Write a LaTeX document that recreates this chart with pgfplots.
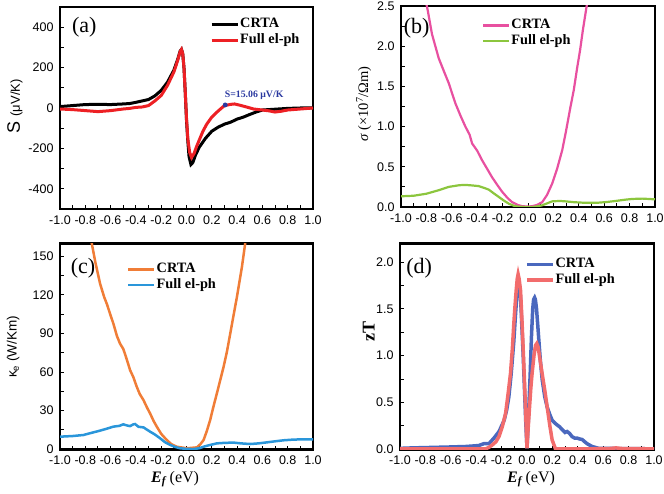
\documentclass[border=0pt]{standalone}
\usepackage{pgfplots}
\pgfplotsset{compat=1.18}
\usepackage{fontspec}
\setmainfont{Liberation Serif}
\setsansfont{Liberation Sans}
\definecolor{cred}{RGB}{237,32,36}
\definecolor{cpink}{RGB}{232,80,160}
\definecolor{cgreen}{RGB}{140,198,62}
\definecolor{corange}{RGB}{240,125,55}
\definecolor{cblue}{RGB}{42,150,218}
\definecolor{dblue}{RGB}{74,104,190}
\definecolor{dred}{RGB}{242,108,108}
\definecolor{annblue}{RGB}{43,57,160}
\pgfplotsset{
 panel/.style={
  scale only axis, xmin=-1, xmax=1,
  axis line style={line width=2.5pt},
  tick align=inside, xtick pos=bottom, ytick pos=left,
  major tick length=3.5pt, minor tick length=3.5pt,
  tick style={black, line width=1pt},
  xtick={-1,-0.8,-0.6,-0.4,-0.2,0,0.2,0.4,0.6,0.8,1},
  xticklabels={-1.0,-0.8,-0.6,-0.4,-0.2,0.0,0.2,0.4,0.6,0.8,1.0},
  minor x tick num=1, minor y tick num=1,
  ticklabel style={font=\sffamily\fontsize{12.5}{12.5}\selectfont},
  xticklabel style={yshift=-3.3pt},
  yticklabel style={xshift=-3pt},
  legend style={draw=none, fill=none, inner sep=0pt, anchor=north west,
    font=\bfseries\fontsize{14.3}{14.3}\selectfont, cells={anchor=west},
    nodes={inner sep=1pt, text height=9.5pt, text depth=3pt}, row sep=1pt},
  legend image code/.code={\draw[##1] (0pt,0pt) -- (26pt,0pt);},
 },
 xlab/.style={xlabel={\fontsize{16}{16}\selectfont\textbf{\textit{E}}\textsubscript{\textbf{\textit{f}}}\,(eV)},
   xlabel style={at={(axis description cs:#1,-0.144)}, anchor=center}},
}
\begin{document}
\begin{tikzpicture}
\path[use as bounding box] (0,0) rectangle (664pt,494pt);
% (a)
\begin{axis}[panel, at={(60pt,285pt)}, anchor=south west, width=253pt, height=202pt,
  ymin=-500, ymax=500, ytick={-400,-200,0,200,400}, yticklabels={-400,-200,0,200,400},
  ylabel={\sffamily{\fontsize{18}{18}\selectfont S}\ \ {\fontsize{13}{13}\selectfont(μV/K)}},
  ylabel style={at={(axis description cs:-0.178,0.507)}, anchor=center},
  legend style={at={(rel axis cs:0.593,0.950)}}]
\addplot[black, line width=3pt] coordinates {(-1.0,7) (-0.9,12) (-0.8,17) (-0.7,18) (-0.6,17) (-0.5,20) (-0.45,22) (-0.4,28) (-0.35,35) (-0.3,42) (-0.25,60) (-0.2,87) (-0.15,128) (-0.1,187) (-0.07,240) (-0.05,282) (-0.04,290) (-0.03,270) (-0.02,200) (-0.01,80) (0.0,-60) (0.01,-160) (0.02,-240) (0.035,-280) (0.05,-270) (0.07,-235) (0.1,-195) (0.15,-150) (0.2,-115) (0.25,-95) (0.3,-80) (0.35,-70) (0.4,-55) (0.45,-45) (0.5,-32) (0.55,-20) (0.6,-10) (0.7,-6) (0.8,-2) (0.9,0) (1.0,0)};
\addlegendentry{CRTA}
\addplot[cred, line width=3pt] coordinates {(-1.0,-5) (-0.9,-8) (-0.8,-13) (-0.7,-18) (-0.6,-13) (-0.5,-5) (-0.45,-2) (-0.4,3) (-0.35,5) (-0.3,12) (-0.25,35) (-0.2,62) (-0.15,112) (-0.1,178) (-0.07,235) (-0.05,280) (-0.04,290) (-0.03,270) (-0.02,200) (-0.01,80) (0.0,-50) (0.01,-150) (0.025,-220) (0.04,-245) (0.06,-225) (0.08,-190) (0.1,-160) (0.13,-115) (0.16,-80) (0.2,-45) (0.25,-15) (0.3,12) (0.35,18) (0.38,20) (0.42,14) (0.48,4) (0.53,-5) (0.6,-10) (0.65,-14) (0.7,-20) (0.75,-16) (0.8,-10) (0.9,-5) (1.0,0)};
\addlegendentry{Full el-ph}
\addplot[annblue, only marks, mark=*, mark size=2.2pt, forget plot] coordinates {(0.306,15.06)};
\node[anchor=west, inner sep=0pt, text=annblue, font=\bfseries\fontsize{9.8}{9.8}\selectfont] at (axis cs:0.302,64) {S=15.06 μV/K};
\node[anchor=west, inner sep=0pt, font=\fontsize{22}{22}\selectfont] at (rel axis cs:0.047,0.90) {(a)};
\end{axis}
% (b)
\begin{axis}[panel, at={(401pt,287pt)}, anchor=south west, width=254pt, height=201pt,
  ymin=0, ymax=2.5, ytick={0,0.5,1,1.5,2,2.5}, yticklabels={0.0,0.5,1.0,1.5,2.0,2.5},
  ylabel={\fontsize{14.5}{14.5}\selectfont\textit{σ} (×10\textsuperscript{7}/Ωm)},
  ylabel style={at={(axis description cs:-0.147,0.512)}, anchor=center},
  legend style={at={(rel axis cs:0.319,0.940)}}]
\addplot[cpink, line width=2.2pt] coordinates {(-0.81,2.6) (-0.79,2.45) (-0.756,2.15) (-0.703,1.85) (-0.66,1.68) (-0.624,1.54) (-0.572,1.29) (-0.53,1.13) (-0.493,1.0) (-0.46,0.9) (-0.44,0.79) (-0.4,0.7) (-0.361,0.58) (-0.32,0.47) (-0.283,0.37) (-0.24,0.27) (-0.204,0.19) (-0.16,0.11) (-0.125,0.06) (-0.08,0.025) (-0.046,0.01) (0.0,0.005) (0.033,0.01) (0.07,0.025) (0.112,0.06) (0.15,0.15) (0.19,0.29) (0.23,0.48) (0.27,0.71) (0.3,0.95) (0.335,1.25) (0.36,1.45) (0.388,1.74) (0.41,1.95) (0.432,2.2) (0.467,2.55)};
\addlegendentry{CRTA}
\addplot[cgreen, line width=2.2pt] coordinates {(-1,0.133) (-0.9,0.14) (-0.8,0.165) (-0.7,0.21) (-0.624,0.25) (-0.545,0.27) (-0.5,0.275) (-0.453,0.27) (-0.388,0.26) (-0.35,0.24) (-0.309,0.216) (-0.27,0.17) (-0.23,0.125) (-0.19,0.08) (-0.15,0.04) (-0.11,0.015) (-0.072,0.003) (0.0,0.0) (0.05,0.002) (0.11,0.02) (0.15,0.045) (0.19,0.07) (0.25,0.075) (0.296,0.07) (0.36,0.06) (0.427,0.054) (0.5,0.052) (0.558,0.054) (0.62,0.062) (0.69,0.075) (0.76,0.09) (0.82,0.1) (0.9,0.104) (0.95,0.1) (1.0,0.095)};
\addlegendentry{Full el-ph}
\node[anchor=west, inner sep=0pt, font=\fontsize{22}{22}\selectfont] at (rel axis cs:0.0106,0.89) {(b)};
\end{axis}
% (c)
\begin{axis}[panel, xlab=0.455, at={(60pt,44.7pt)}, anchor=south west, width=253pt, height=206pt,
  ymin=0, ymax=160, ytick={0,30,60,90,120,150}, yticklabels={0,30,60,90,120,150},
  ylabel={\sffamily\fontsize{13.5}{13.5}\selectfont κ\textsubscript{e} (W/Km)},
  ylabel style={at={(axis description cs:-0.185,0.497)}, anchor=center},
  legend style={at={(rel axis cs:0.265,0.909)}}]
\addplot[corange, line width=2.5pt] coordinates {(-0.76,165) (-0.749,160) (-0.72,145) (-0.683,128.6) (-0.65,118) (-0.63,113) (-0.6,104) (-0.578,97.6) (-0.55,88) (-0.525,82) (-0.5,78) (-0.486,74) (-0.46,66) (-0.446,61.5) (-0.42,56) (-0.393,48.5) (-0.37,43) (-0.34,38.2) (-0.31,32) (-0.288,27.9) (-0.26,22) (-0.235,17.6) (-0.2,12) (-0.156,7.2) (-0.12,4) (-0.077,2) (0.003,0.8) (0.082,1.5) (0.11,4) (0.135,7.2) (0.16,14) (0.187,22.7) (0.21,32) (0.24,43.4) (0.27,55) (0.293,64) (0.32,76) (0.346,90) (0.37,103) (0.398,118) (0.42,131) (0.438,141.5) (0.464,160) (0.47,165)};
\addlegendentry{CRTA}
\addplot[cblue, line width=2.5pt] coordinates {(-1,9.8) (-0.9,10.3) (-0.815,11.1) (-0.75,12.8) (-0.683,14.5) (-0.63,16) (-0.578,17.6) (-0.53,18.2) (-0.5,19.4) (-0.47,18.5) (-0.446,18) (-0.42,19.4) (-0.406,19.6) (-0.38,17.5) (-0.34,17) (-0.288,13.7) (-0.25,11.5) (-0.208,8.5) (-0.17,5.5) (-0.129,3.4) (-0.09,1.8) (-0.05,0.8) (0.0,0.3) (0.055,0.2) (0.1,0.8) (0.135,2) (0.18,3.2) (0.24,4.6) (0.3,5) (0.372,5.2) (0.43,4.6) (0.504,4.1) (0.57,4.6) (0.636,5.4) (0.7,6.2) (0.768,7) (0.84,7.5) (0.9,7.7) (1.0,7.7)};
\addlegendentry{Full el-ph}
\node[anchor=west, inner sep=0pt, font=\fontsize{22}{22}\selectfont] at (rel axis cs:0.042,0.88) {(c)};
\end{axis}
% (d)
\begin{axis}[panel, xlab=0.516, at={(400pt,44.7pt)}, anchor=south west, width=254pt, height=206pt,
  ymin=0, ymax=2.2, ytick={0,0.5,1,1.5,2}, yticklabels={0.0,0.5,1.0,1.5,2.0},
  ylabel={\bfseries\fontsize{18}{18}\selectfont zT},
  ylabel style={at={(axis description cs:-0.123,0.57)}, anchor=center},
  legend style={at={(rel axis cs:0.492,0.933)}}]
\addplot[dblue, line width=3.5pt] coordinates {(-1,0.01) (-0.9,0.015) (-0.746,0.02) (-0.6,0.025) (-0.48,0.03) (-0.43,0.035) (-0.38,0.04) (-0.34,0.06) (-0.3,0.06) (-0.26,0.12) (-0.22,0.19) (-0.18,0.31) (-0.16,0.42) (-0.143,0.56) (-0.125,0.8) (-0.104,1.15) (-0.09,1.45) (-0.077,1.7) (-0.068,1.8) (-0.06,1.75) (-0.05,1.6) (-0.04,1.3) (-0.03,1.0) (-0.02,0.65) (-0.01,0.3) (0.0,0.01) (0.01,0.3) (0.025,0.8) (0.035,1.2) (0.045,1.5) (0.052,1.6) (0.06,1.62) (0.066,1.6) (0.075,1.5) (0.085,1.32) (0.093,1.17) (0.105,0.95) (0.12,0.74) (0.14,0.56) (0.159,0.45) (0.18,0.37) (0.198,0.31) (0.22,0.28) (0.237,0.26) (0.257,0.24) (0.277,0.21) (0.3,0.18) (0.316,0.19) (0.335,0.17) (0.355,0.135) (0.375,0.12) (0.394,0.12) (0.415,0.11) (0.434,0.105) (0.455,0.08) (0.473,0.06) (0.512,0.03) (0.565,0.01) (1.0,0.005)};
\addlegendentry{CRTA}
\addplot[dred, line width=3.5pt] coordinates {(-1,0.005) (-0.6,0.005) (-0.326,0.005) (-0.3,0.02) (-0.274,0.046) (-0.245,0.08) (-0.221,0.135) (-0.195,0.24) (-0.169,0.38) (-0.15,0.58) (-0.13,0.81) (-0.115,1.08) (-0.104,1.34) (-0.095,1.52) (-0.085,1.7) (-0.077,1.82) (-0.07,1.87) (-0.062,1.82) (-0.051,1.7) (-0.042,1.45) (-0.033,1.17) (-0.022,0.8) (-0.012,0.45) (-0.005,0.18) (0.0,0.01) (0.008,0.2) (0.02,0.45) (0.03,0.65) (0.04,0.81) (0.055,1.0) (0.067,1.11) (0.077,1.13) (0.088,1.09) (0.1,0.98) (0.119,0.81) (0.14,0.63) (0.159,0.45) (0.18,0.25) (0.198,0.1) (0.224,0.005) (0.5,0.005) (0.65,0.008) (0.7,0.015) (0.75,0.008) (1.0,0.005)};
\addlegendentry{Full el-ph}
\node[anchor=west, inner sep=0pt, font=\fontsize{22}{22}\selectfont] at (rel axis cs:0.024,0.88) {(d)};
\end{axis}
\end{tikzpicture}
\end{document}
